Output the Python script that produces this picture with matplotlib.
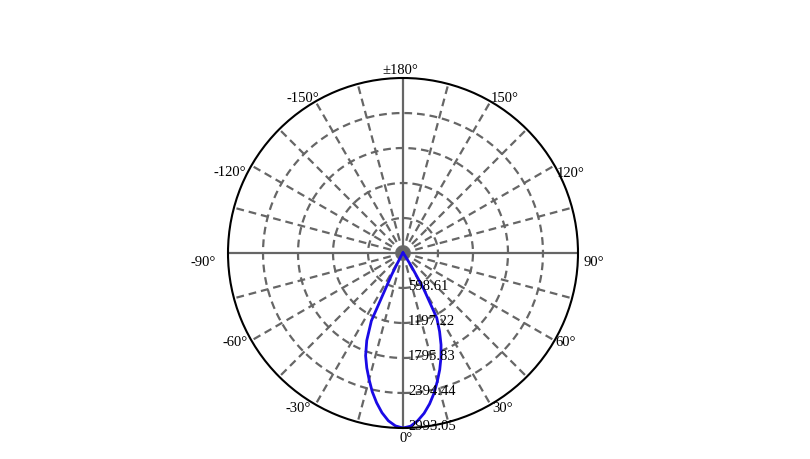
import numpy as np
import matplotlib.pyplot as plt

plt.rcParams['font.family'] = ['Liberation Serif', 'DejaVu Serif']

# intensity curve (cd), angle in degrees, 0 = straight down
angles = [-180, -150, -120, -90, -60, -45, -40, -35, -30, -27.5, -25, -22.5, -20,
          -17.5, -15, -12.5, -10, -7.5, -5, -2.5, 0, 2.5, 5, 7.5, 10, 12.5, 15,
          17.5, 20, 22.5, 25, 27.5, 30, 32.5, 35, 40, 45, 60, 90, 120, 150, 180]
intensity = [0, 0, 0, 0, 5, 10, 20, 40, 110, 420, 1280, 1620, 1870,
             2060, 2240, 2430, 2600, 2755, 2880, 2960, 2993.05, 2965, 2880, 2765, 2620, 2455, 2270,
             2090, 1900, 1700, 1480, 1250, 700, 250, 70, 25, 10, 5, 0, 0, 0, 0]

ring_values = [598.61, 1197.22, 1795.83, 2394.44, 2993.05]
ring_labels = ['598.61', '1197.22', '1795.83', '2394.44', '2993.05']

label_angles = [0, 30, 60, 90, 120, 150, 180, -150, -120, -90, -60, -30]
label_texts = ['0°', '30°', '60°', '90°', '120°', '150°', '±180°',
               '-150°', '-120°', '-90°', '-60°', '-30°']
# pixel nudges (right, down) and alignment for each angle label
label_nudge = [(3, 10), (1.5, 2.5), (0.5, 1.5), (5, 8), (2.5, 6.5), (0.5, -3.5),
               (-3, -9), (3.5, -3.5), (-5.5, 6.5), (-12, 9), (-3.5, 1.5), (-4.5, 2.5)]
label_ha = ['center', 'left', 'left', 'left', 'left', 'left', 'center',
            'right', 'right', 'right', 'right', 'right']

rmax = ring_values[-1]
grid_col = '#666666'
fsize = 10.5

fig = plt.figure(figsize=(8.1, 4.6), dpi=100)
ax = fig.add_axes([228 / 810, 31 / 460, 350 / 810, 350 / 460], projection='polar')
ax.set_theta_zero_location('S')
ax.set_theta_direction(1)
ax.set_ylim(0, rmax)
ax.grid(False)
ax.set_xticks([])
ax.set_yticks([])
ax.spines['polar'].set_color('black')
ax.spines['polar'].set_linewidth(1.5)
ax.spines['polar'].set_zorder(5)

# rings
full = np.linspace(0, 2 * np.pi, 721)
for rv in ring_values[:-1]:
    ax.plot(full, np.full_like(full, rv), color=grid_col, lw=1.6,
            linestyle=(0, (3.5, 2.2)), zorder=1)

# spokes every 15 degrees
for a in range(0, 360, 15):
    t = np.radians(a)
    if a % 90 == 0:
        ax.plot([t, t], [0, rmax], color=grid_col, lw=1.6, zorder=1)
    else:
        ax.plot([t, t], [0, rmax], color=grid_col, lw=1.6,
                linestyle=(0, (3.5, 2.2)), zorder=1)

ax.plot(np.radians(angles), intensity, color='#1a0ae6', lw=2, zorder=3)

# ring labels along 0 degree axis
for rv, txt in zip(ring_values, ring_labels):
    ax.annotate(txt, xy=(0, rv), xytext=(5 * 0.72, 2 * 0.72),
                textcoords='offset points', ha='left', va='center',
                fontsize=fsize, color='black', zorder=6, annotation_clip=False)

for a, txt, (dx, dy), ha in zip(label_angles, label_texts, label_nudge, label_ha):
    ax.annotate(txt, xy=(np.radians(a), rmax), xytext=(dx * 0.72, -dy * 0.72),
                textcoords='offset points', ha=ha, va='center',
                fontsize=fsize, color='black', annotation_clip=False)

fig.savefig('out.png', dpi=100)
